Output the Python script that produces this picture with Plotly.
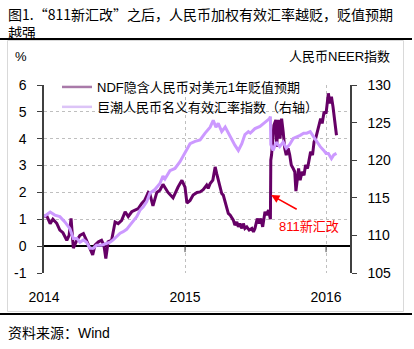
import plotly.graph_objects as go

# ---------------- data ----------------
ndf_dates = [
    "2014-01-01", "2014-01-09", "2014-01-17", "2014-01-24", "2014-02-03", "2014-02-11",
    "2014-02-19", "2014-03-01", "2014-03-07", "2014-03-12", "2014-03-18", "2014-03-27",
    "2014-04-04", "2014-04-13", "2014-04-21", "2014-04-28", "2014-05-07", "2014-05-13",
    "2014-05-22", "2014-05-30", "2014-06-05", "2014-06-10", "2014-06-16", "2014-06-25",
    "2014-07-04", "2014-07-12", "2014-07-21", "2014-07-30", "2014-08-07", "2014-08-16",
    "2014-08-25", "2014-09-02", "2014-09-11", "2014-09-19", "2014-09-28", "2014-10-02",
    "2014-10-10", "2014-10-20", "2014-10-28", "2014-11-05", "2014-11-18", "2014-12-01",
    "2014-12-14", "2014-12-24", "2015-01-01", "2015-01-06", "2015-01-14", "2015-01-22",
    "2015-02-01", "2015-02-09", "2015-02-17", "2015-02-26", "2015-03-02", "2015-03-07",
    "2015-03-14", "2015-03-20", "2015-03-24", "2015-03-28", "2015-04-02", "2015-04-06",
    "2015-04-10", "2015-04-15", "2015-04-19", "2015-04-23", "2015-04-28", "2015-05-02",
    "2015-05-06", "2015-05-10", "2015-05-15", "2015-05-19", "2015-05-23", "2015-05-28",
    "2015-06-01", "2015-06-05", "2015-06-10", "2015-06-16", "2015-06-23", "2015-06-27",
    "2015-07-01", "2015-07-07", "2015-07-12", "2015-07-16", "2015-07-21", "2015-07-27",
    "2015-07-31", "2015-08-05", "2015-08-09", "2015-08-10", "2015-08-11", "2015-08-13",
    "2015-08-19", "2015-08-24", "2015-08-26", "2015-08-31", "2015-09-04", "2015-09-08",
    "2015-09-12", "2015-09-16", "2015-09-20", "2015-09-25", "2015-09-29", "2015-10-03",
    "2015-10-08", "2015-10-12", "2015-10-15", "2015-10-19", "2015-10-22", "2015-10-26",
    "2015-10-31", "2015-11-05", "2015-11-09", "2015-11-14", "2015-11-18", "2015-11-22",
    "2015-11-27", "2015-12-01", "2015-12-05", "2015-12-09", "2015-12-14", "2015-12-18",
    "2015-12-22", "2015-12-27", "2016-01-01", "2016-01-07", "2016-01-11", "2016-01-15",
    "2016-01-19", "2016-01-24", "2016-01-28",
]
ndf_values = [
    1.12, 1.10, 0.84, 1.00, 0.85, 0.60,
    0.50, 0.22, 0.40, 1.03, -0.07, 0.22,
    0.40, 0.47, 0.22, -0.03, -0.33, 0.04,
    0.16, 0.22, 0.04, -0.46, 0.16, 0.22,
    0.90, 0.84, 0.96, 1.28, 1.10, 1.28,
    1.34, 1.40, 1.59, 1.72, 2.00, 1.95,
    1.50, 2.00, 2.08, 2.30, 2.00, 1.80,
    2.20, 2.45, 2.20, 1.60, 1.70, 1.90,
    2.00, 2.02, 2.10, 2.27, 2.15, 2.33,
    2.46, 2.95, 2.70, 2.46, 2.20, 1.96,
    1.90, 1.65, 1.40, 1.22, 1.15, 1.03,
    0.97, 0.78, 0.90, 0.72, 0.84, 0.66,
    0.84, 0.66, 0.72, 0.60, 0.66, 0.53,
    0.66, 1.03, 0.84, 1.03, 0.72, 1.28,
    1.15, 1.34, 1.03, 1.00, 3.20, 3.40,
    4.50, 4.70, 3.70, 4.70, 4.00, 4.75,
    4.26, 3.64, 3.39, 3.64, 3.39, 3.02,
    2.89, 2.77, 2.05, 2.64, 2.89, 2.46,
    2.77, 2.64, 3.02, 2.89, 3.20, 3.51,
    3.39, 3.88, 4.00, 4.26, 4.50, 4.75,
    4.57, 5.00, 4.94, 5.69, 5.31, 5.56,
    5.19, 4.69, 4.13,
]

neer_dates = [
    "2014-01-01", "2014-01-17", "2014-01-29", "2014-02-11", "2014-02-24", "2014-03-09",
    "2014-03-18", "2014-03-27", "2014-04-04", "2014-04-13", "2014-04-21", "2014-04-30",
    "2014-05-09", "2014-05-17", "2014-05-30", "2014-06-12", "2014-06-21", "2014-06-29",
    "2014-07-08", "2014-07-17", "2014-07-25", "2014-08-03", "2014-08-12", "2014-08-20",
    "2014-08-29", "2014-09-07", "2014-09-15", "2014-09-24", "2014-10-02", "2014-10-15",
    "2014-10-28", "2014-11-05", "2014-11-10", "2014-11-23", "2014-12-06", "2014-12-19",
    "2015-01-01", "2015-01-14", "2015-01-27", "2015-02-09", "2015-02-22", "2015-03-07",
    "2015-03-15", "2015-03-22", "2015-03-28", "2015-04-06", "2015-04-15", "2015-04-23",
    "2015-05-02", "2015-05-10", "2015-05-19", "2015-05-28", "2015-06-05", "2015-06-14",
    "2015-06-19", "2015-07-01", "2015-07-14", "2015-07-27", "2015-08-07", "2015-08-10",
    "2015-08-11", "2015-08-17", "2015-08-25", "2015-09-03", "2015-09-12", "2015-09-20",
    "2015-09-29", "2015-10-08", "2015-10-18", "2015-10-26", "2015-11-04", "2015-11-12",
    "2015-11-21", "2015-11-30", "2015-12-08", "2015-12-17", "2015-12-26", "2016-01-01",
    "2016-01-07", "2016-01-15", "2016-01-21", "2016-01-28",
]
neer_values = [
    112.5, 113.1, 112.7, 112.5, 111.8, 110.9,
    109.6, 109.6, 109.1, 109.4, 109.1, 108.3,
    108.3, 108.7, 108.7, 108.9, 109.1, 109.4,
    109.8, 110.3, 110.5, 110.8, 111.4, 112.0,
    112.5, 113.4, 113.8, 114.5, 115.6, 116.1,
    116.9, 117.9, 117.5, 118.6, 118.9, 119.8,
    121.1, 122.2, 122.5, 122.7, 123.6, 124.4,
    125.3, 124.4, 124.9, 123.8, 124.4, 123.6,
    122.7, 122.0, 121.3, 122.2, 123.4, 123.8,
    123.6, 124.2, 124.5, 125.1, 125.5, 125.8,
    122.1, 121.3, 122.4, 121.8, 122.4, 121.6,
    122.1, 122.9, 123.1, 123.3, 123.6, 123.6,
    123.8, 123.1, 122.4, 121.8, 121.3, 120.9,
    120.9, 120.2, 120.7, 120.9,
]

x_tick_vals = ["2014-01-01", "2015-01-01", "2016-01-01"]
x_tick_text = ["2014", "2015", "2016"]
left_ticks = [-1, 0, 1, 2, 3, 4, 5, 6]
left_tick_text = ["-1", "0", "1", "2", "3", "4", "5", "6"]
right_ticks = [105, 110, 115, 120, 125, 130]

ndf_name = "NDF隐含人民币对美元1年贬值预期"
neer_name = "巨潮人民币名义有效汇率指数（右轴）"
title_text = "图1.“811新汇改”之后，人民币加权有效汇率越贬，贬值预期<br>越强"
left_title = "%"
right_title = "人民币NEER指数"
note_text = "811新汇改"
source_text = "资料来源：Wind"

# ---------------- styling / layout helpers ----------------
W, H = 414, 349
L, R, T, B = 44, 350, 85, 273
FONT = "Liberation Sans, Arial, Noto Sans CJK SC, sans-serif"
CJK = "Noto Sans CJK SC, Liberation Sans, sans-serif"
NDF_COLOR = "#660066"
NEER_COLOR = "#CC99FF"
GRID = "#BFBFBF"


def pxx(x):
    return (x - L) / (R - L)


def pxy(y):
    return (B - y) / (B - T)


fig = go.Figure()

fig.add_trace(go.Scatter(
    x=neer_dates, y=neer_values, yaxis="y2", mode="lines",
    line=dict(color=NEER_COLOR, width=3), showlegend=False, name=neer_name,
))
fig.add_trace(go.Scatter(
    x=ndf_dates, y=ndf_values, mode="lines",
    line=dict(color=NDF_COLOR, width=3), showlegend=False, name=ndf_name,
))
# legend entries
fig.add_trace(go.Scatter(
    x=[None], y=[None], mode="lines", name=ndf_name,
    line=dict(color="#A97AA9", width=2.5),
))
fig.add_trace(go.Scatter(
    x=[None], y=[None], mode="lines", name=neer_name,
    line=dict(color="#DCC4F7", width=2.5),
))

shapes = []
# zero-line ticks at year boundaries
for xv in x_tick_vals[1:]:
    shapes.append(dict(type="line", xref="x", yref="y", x0=xv, x1=xv,
                       ysizemode="pixel", yanchor=0, y0=0, y1=-6,
                       line=dict(color="#404040", width=1)))
# outer frame
shapes.append(dict(type="rect", xref="paper", yref="paper",
                   x0=pxx(7.5), x1=pxx(403.5), y0=pxy(311.5), y1=pxy(40.5),
                   line=dict(color="#D9D9D9", width=1), layer="below"))
# rules under title and above source
for yy in (39, 314):
    shapes.append(dict(type="line", xref="paper", yref="paper",
                       x0=pxx(0), x1=pxx(412), y0=pxy(yy), y1=pxy(yy),
                       line=dict(color="#000000", width=2)))

annotations = [
    dict(text=title_text, xref="paper", yref="paper", x=pxx(6), y=pxy(23),
         xanchor="left", yanchor="middle", align="left", showarrow=False,
         font=dict(family=CJK, size=14, color="#000000")),
    dict(text=left_title, xref="paper", yref="paper", x=pxx(21), y=pxy(57),
         xanchor="center", yanchor="middle", showarrow=False,
         font=dict(family=FONT, size=13, color="#000000")),
    dict(text=right_title, xref="paper", yref="paper", x=pxx(392), y=pxy(57),
         xanchor="right", yanchor="middle", showarrow=False,
         font=dict(family=FONT, size=13, color="#000000")),
    dict(text="", xref="x", yref="y", x="2015-08-12", y=1.9,
         showarrow=True, ax=27, ay=15, arrowhead=2, arrowsize=1.1,
         arrowwidth=1.5, arrowcolor="#FF0000", standoff=0),
    dict(text=note_text, xref="paper", yref="paper", x=pxx(309), y=pxy(226),
         xanchor="center", yanchor="middle", showarrow=False,
         font=dict(family=FONT, size=13, color="#FF0000")),
    dict(text=source_text, xref="paper", yref="paper", x=pxx(6), y=pxy(333),
         xanchor="left", yanchor="middle", showarrow=False,
         font=dict(family=FONT, size=14, color="#000000")),
]

fig.update_layout(
    width=W, height=H, autosize=False,
    margin=dict(l=L, r=W - R, t=T, b=H - B, pad=0),
    paper_bgcolor="#FFFFFF", plot_bgcolor="rgba(0,0,0,0)",
    font=dict(family=FONT, size=14, color="#000000"),
    showlegend=True,
    legend=dict(x=pxx(57), y=pxy(72), xanchor="left", yanchor="top",
                bgcolor="rgba(0,0,0,0)", borderwidth=0,
                font=dict(family=FONT, size=13, color="#000000"),
                tracegroupgap=0, itemwidth=30),
    xaxis=dict(type="date", range=["2014-01-01", "2016-03-03"],
               tickvals=x_tick_vals, ticktext=x_tick_text,
               showgrid=True, gridcolor=GRID, griddash="dot", gridwidth=1,
               showline=False, zeroline=False, ticks="", ticklabelstandoff=14,
               tickfont=dict(family=FONT, size=14)),
    yaxis=dict(range=[-1, 6], tickvals=left_ticks, ticktext=left_tick_text,
               showgrid=True, gridcolor=GRID, griddash="dot", gridwidth=1,
               zeroline=True, zerolinecolor="#000000", zerolinewidth=1.5,
               showline=True, linecolor="#404040", linewidth=1.5,
               ticks="outside", ticklen=5, tickcolor="#404040", tickwidth=1,
               ticklabelstandoff=8, tickfont=dict(family=FONT, size=14)),
    yaxis2=dict(range=[105, 130], tickvals=right_ticks, overlaying="y", side="right",
                showgrid=False, zeroline=False,
                showline=True, linecolor="#404040", linewidth=1.5,
                ticks="outside", ticklen=5, tickcolor="#404040", tickwidth=1,
                ticklabelstandoff=8, tickfont=dict(family=FONT, size=14)),
    shapes=shapes, annotations=annotations,
)

fig.write_html("out.html")
